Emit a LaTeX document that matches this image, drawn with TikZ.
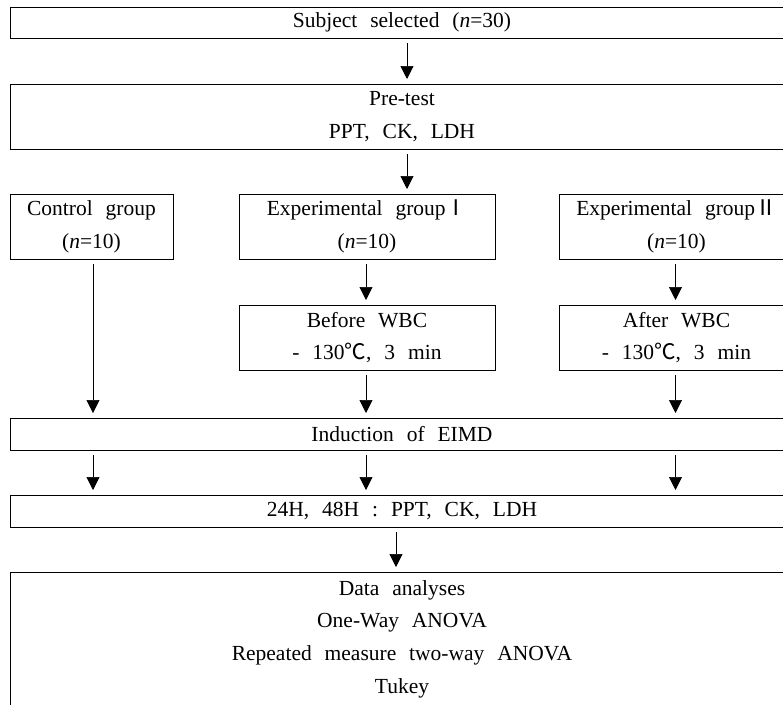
\documentclass[tikz,border=0pt]{standalone}
\usepackage{fontspec}
\setmainfont{Liberation Serif}[WordSpace=2.4]
\newfontfamily\cjk{Noto Sans CJK KR}
\usetikzlibrary{arrows.meta}
\begin{document}
\begin{tikzpicture}[x=1pt,y=-1pt,
  box/.style={draw, line width=1pt, inner sep=0pt, align=center,
    font=\fontsize{21.5}{32.7}\selectfont},
  arr/.style={line width=0.7pt, -{Triangle[length=13pt,width=13pt]},
    shorten <=4.5pt, shorten >=4.5pt}]
\useasboundingbox (0,0) rectangle (783,704);
\clip (0,0) rectangle (783,704);
% boxes
\node[box, minimum width=784pt, minimum height=31pt] (sub) at (402,22.5) {Subject selected (\textit{n}=30)};
\node[box, minimum width=784pt, minimum height=65pt] (pre) at (402,116.5) {Pre-test\\PPT, CK, LDH};
\node[box, minimum width=163pt, minimum height=65pt] (ctrl) at (91.5,226.5) {Control group\\(\textit{n}=10)};
\node[box, minimum width=256pt, minimum height=65pt] (exa) at (367,226.5) {Experimental group{\cjk Ⅰ}\\(\textit{n}=10)};
\node[box, minimum width=235pt, minimum height=65pt] (exb) at (676.5,226.5) {Experimental group{\cjk Ⅱ}\\(\textit{n}=10)};
\node[box, minimum width=256pt, minimum height=65pt] (bef) at (367,337.5) {Before WBC\\- 130{\cjk ℃}, 3 min};
\node[box, minimum width=235pt, minimum height=65pt] (aft) at (676.5,337.5) {After WBC\\- 130{\cjk ℃}, 3 min};
\node[box, minimum width=784pt, minimum height=32pt] (ind) at (402,434) {Induction of EIMD};
\node[box, minimum width=784pt, minimum height=32pt] (post) at (402,511) {24H, 48H : PPT, CK, LDH};
\node[box, minimum width=784pt, minimum height=134pt] (data) at (402,639) {Data analyses\\One-Way ANOVA\\Repeated measure two-way ANOVA\\Tukey};
% helper x positions
\coordinate (xa) at (407,0);
\coordinate (xb) at (396,0);
\coordinate (xc) at (93,0);
\coordinate (xd) at (366,0);
\coordinate (xe) at (675.5,0);
% connectors
\draw[arr] (sub.south -| xa) -- (pre.north -| xa);
\draw[arr] (pre.south -| xa) -- (exa.north -| xa);
\draw[arr] (ctrl.south -| xc) -- (ind.north -| xc);
\draw[arr] (exa.south -| xd) -- (bef.north -| xd);
\draw[arr] (exb.south -| xe) -- (aft.north -| xe);
\draw[arr] (bef.south -| xd) -- (ind.north -| xd);
\draw[arr] (aft.south -| xe) -- (ind.north -| xe);
\draw[arr] (ind.south -| xc) -- (post.north -| xc);
\draw[arr] (ind.south -| xd) -- (post.north -| xd);
\draw[arr] (ind.south -| xe) -- (post.north -| xe);
\draw[arr] (post.south -| xb) -- (data.north -| xb);
\end{tikzpicture}
\end{document}
